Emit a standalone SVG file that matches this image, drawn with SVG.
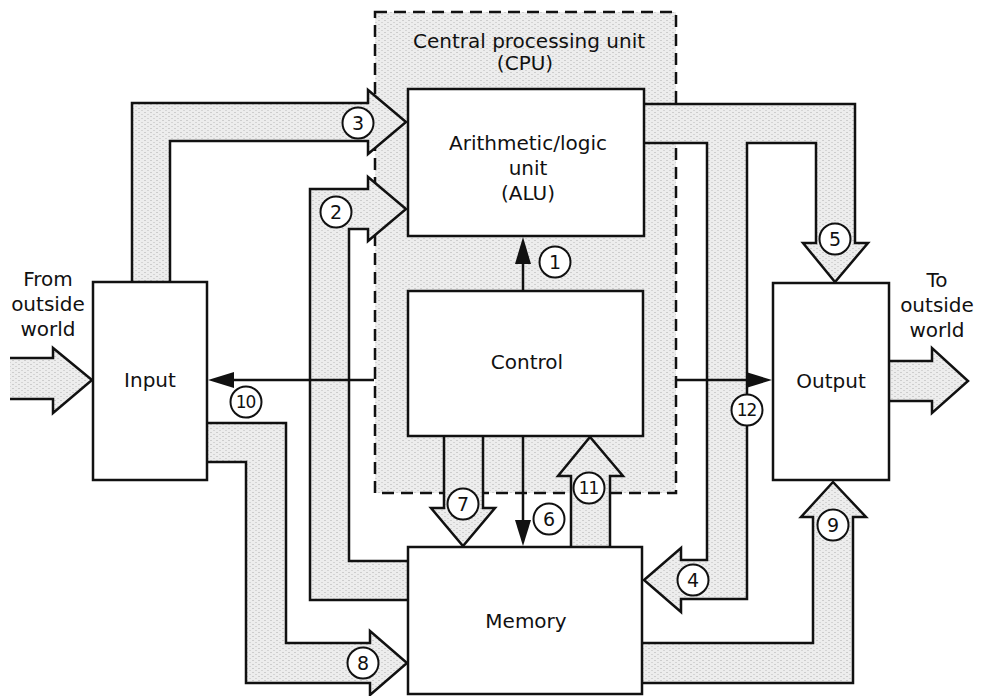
<svg xmlns="http://www.w3.org/2000/svg" width="985" height="696" viewBox="0 0 985 696">
<defs>
<pattern id="stip" width="6" height="4" patternUnits="userSpaceOnUse">
<rect width="6" height="4" fill="#ededed"/>
<rect x="0" y="0" width="2" height="1" fill="#cdcdcd"/>
<rect x="3" y="2" width="2" height="1" fill="#d4d4d4"/>
</pattern>
<style>
.bus{fill:url(#stip);stroke:#111;stroke-width:2.5;stroke-linejoin:miter}
.box{fill:#fff;stroke:#111;stroke-width:2.5}
.thin{stroke:#111;stroke-width:2.5;fill:none}
.head{fill:#111;stroke:none}
.lbl{fill:#fff;stroke:#111;stroke-width:2}
text{font-family:"DejaVu Sans","Liberation Sans",sans-serif;fill:#111;text-anchor:middle}
.t{font-size:20px}
.n{font-size:19px}
.n2{font-size:17px;letter-spacing:-1px}
</style>
</defs>
<rect width="985" height="696" fill="#fff"/>
<g id="cpu">
<rect x="375" y="12" width="301" height="481" fill="url(#stip)" stroke="#111" stroke-width="2.5" stroke-dasharray="12 7"/>
<text class="t" x="529" y="48">Central processing unit</text>
<text class="t" x="525" y="70">(CPU)</text>
</g>
<g id="connectors">
<path class="bus" d="M132,282 L132,103 L368,103 L368,90 L406,122 L368,154 L368,141 L170,141 L170,282"/>
<path class="bus" d="M408,600 L310,600 L310,189 L368,189 L368,177 L406,209 L368,241 L368,229 L349,229 L349,561 L408,561"/>
<path class="bus" d="M644,104 L855,104 L855,243 L868,243 L835,282 L803,243 L816,243 L816,143 L747,143 L747,599 L681,599 L681,612 L644,580 L681,548 L681,560 L707,560 L707,143 L644,143"/>
<path class="bus" d="M642,683 L853,683 L853,517 L866,517 L833,482 L801,517 L813,517 L813,643 L642,643"/>
<path class="bus" d="M207,423 L286,423 L286,643 L370,643 L370,631 L407,663 L370,695 L370,683 L246,683 L246,462 L207,462"/>
<path class="bus" d="M444,436 L444,508 L431,508 L463,546 L495,508 L483,508 L483,436"/>
<path class="bus" d="M571,547 L571,476 L558,476 L590,437 L623,476 L610,476 L610,547"/>
<path class="bus" d="M10,358 L53,358 L53,348 L92,380 L53,413 L53,399 L10,399"/>
<path class="bus" d="M890,361 L932,361 L932,348 L968,381 L932,413 L932,401 L890,401"/>
<line class="thin" x1="523" y1="291" x2="523" y2="260"/>
<polygon class="head" points="523,237 515,264 531,264"/>
<line class="thin" x1="523" y1="436" x2="523" y2="524"/>
<polygon class="head" points="523,546 515,520 531,520"/>
<line class="thin" x1="374" y1="380" x2="230" y2="380"/>
<polygon class="head" points="208,380 234,372 234,388"/>
<line class="thin" x1="675" y1="380" x2="750" y2="380"/>
<polygon class="head" points="772,380 746,372 746,388"/>
</g>
<g id="alu">
<rect class="box" x="408" y="89" width="236" height="147"/>
<text class="t" x="528" y="150">Arithmetic/logic</text>
<text class="t" x="528" y="175">unit</text>
<text class="t" x="528" y="200">(ALU)</text>
</g>
<g id="control">
<rect class="box" x="408" y="291" width="235" height="145"/>
<text class="t" x="527" y="369">Control</text>
</g>
<g id="memory">
<rect class="box" x="408" y="547" width="234" height="147"/>
<text class="t" x="526" y="628">Memory</text>
</g>
<g id="input">
<rect class="box" x="93" y="282" width="114" height="198"/>
<text class="t" x="150" y="387">Input</text>
</g>
<g id="output">
<rect class="box" x="773" y="283" width="116" height="197"/>
<text class="t" x="831" y="388">Output</text>
</g>
<g id="outside-labels">
<text class="t" x="48" y="286">From</text>
<text class="t" x="48" y="311">outside</text>
<text class="t" x="48" y="336">world</text>
<text class="t" x="937" y="287">To</text>
<text class="t" x="937" y="312">outside</text>
<text class="t" x="937" y="337">world</text>
</g>
<g id="labels">
<circle class="lbl" cx="555" cy="262" r="15.5"/><text class="n" x="555" y="269">1</text>
<circle class="lbl" cx="336" cy="212" r="15.5"/><text class="n" x="336" y="219">2</text>
<circle class="lbl" cx="358" cy="123" r="15.5"/><text class="n" x="358" y="130">3</text>
<circle class="lbl" cx="693" cy="580" r="15.5"/><text class="n" x="693" y="587">4</text>
<circle class="lbl" cx="835" cy="239" r="15.5"/><text class="n" x="835" y="246">5</text>
<circle class="lbl" cx="549" cy="519" r="15.5"/><text class="n" x="549" y="526">6</text>
<circle class="lbl" cx="463" cy="504" r="15.5"/><text class="n" x="463" y="511">7</text>
<circle class="lbl" cx="363" cy="663" r="15.5"/><text class="n" x="363" y="670">8</text>
<circle class="lbl" cx="833" cy="525" r="15.5"/><text class="n" x="833" y="532">9</text>
<circle class="lbl" cx="246" cy="402" r="15.5"/><text class="n2" x="245.5" y="408">10</text>
<circle class="lbl" cx="589" cy="488" r="15.5"/><text class="n2" x="588.5" y="494">11</text>
<circle class="lbl" cx="747" cy="410" r="15.5"/><text class="n2" x="746.5" y="416">12</text>
</g>
</svg>
